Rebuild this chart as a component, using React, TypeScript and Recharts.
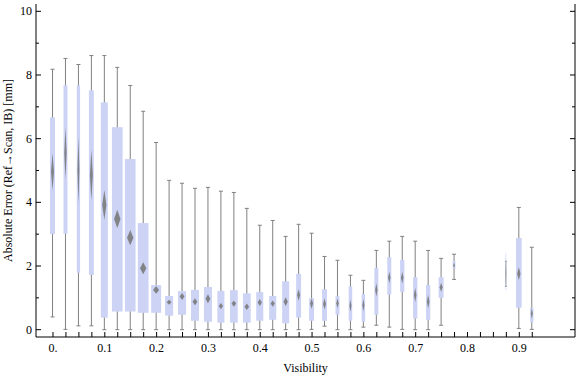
import React from 'react';
import { ComposedChart, Bar, XAxis, YAxis } from 'recharts';

// one box per visibility bin (0.8 - 0.85 have no samples)
const visibility = [0, 0.025, 0.05, 0.075, 0.1, 0.125, 0.15, 0.175, 0.2, 0.225, 0.25, 0.275, 0.3, 0.325, 0.35, 0.375, 0.4, 0.425, 0.45, 0.475, 0.5, 0.525, 0.55, 0.575, 0.6, 0.625, 0.65, 0.675, 0.7, 0.725, 0.75, 0.775, 0.875, 0.9, 0.925];
const whiskerLow = [0.4, 0.01, 0.12, 0.12, 0, 0, 0, 0, 0, 0, 0, 0, 0, 0, 0, 0, 0, 0, 0, 0, 0.01, 0.11, 0, 0, 0.08, 0.14, 0.08, 0.01, 0, 0, 0.14, 1.58, 1.36, 0.04, 0.01];
const q1 = [3.0, 3.01, 1.79, 1.72, 0.38, 0.57, 0.57, 0.53, 0.53, 0.44, 0.47, 0.28, 0.25, 0.22, 0.22, 0.22, 0.28, 0.31, 0.2, 0.38, 0.28, 0.28, 0.47, 0.28, 0.25, 0.47, 1.1, 1.19, 0.35, 0.31, 1.0, 1.92, 1.25, 0.69, 0.23];
const median = [4.96, 5.54, 5.01, 4.86, 3.92, 3.48, 2.89, 1.93, 1.25, 0.86, 1.04, 0.88, 0.97, 0.74, 0.82, 0.72, 0.85, 0.82, 0.88, 1.09, 0.82, 0.81, 0.83, 0.75, 0.77, 1.25, 1.64, 1.63, 1.09, 0.88, 1.33, 2.02, 1.77, 1.76, 0.51];
const q3 = [6.67, 7.68, 7.67, 7.52, 7.14, 6.36, 5.36, 3.35, 1.4, 1.06, 1.21, 1.25, 1.34, 1.22, 1.24, 1.14, 1.18, 1.06, 1.52, 1.75, 0.99, 1.27, 1.05, 1.36, 1.12, 1.94, 2.28, 2.19, 1.65, 1.4, 1.65, 2.16, 2.4, 2.88, 0.69];
const whiskerHigh = [8.18, 8.52, 8.33, 8.61, 8.61, 8.24, 7.67, 6.86, 5.88, 4.69, 4.6, 4.44, 4.47, 4.35, 4.31, 3.81, 3.28, 3.43, 2.93, 3.31, 3.03, 2.3, 2.18, 1.71, 1.55, 2.49, 2.78, 2.93, 2.78, 2.49, 2.24, 2.37, 2.15, 3.84, 2.59];
// half height of the median confidence diamond
const medianCI = [0.58, 0.81, 1.05, 0.79, 0.47, 0.29, 0.24, 0.19, 0.12, 0.08, 0.11, 0.11, 0.14, 0.1, 0.1, 0.1, 0.11, 0.1, 0.14, 0.18, 0.16, 0.17, 0.15, 0.19, 0.19, 0.21, 0.18, 0.18, 0.22, 0.21, 0.14, 0.09, 0.3, 0.2, 0.17];
// relative sample size -> box width
const sampleWeight = [0.45, 0.36, 0.3, 0.45, 0.64, 0.97, 0.97, 0.97, 0.91, 0.73, 0.73, 0.73, 0.73, 0.64, 0.7, 0.7, 0.64, 0.64, 0.64, 0.45, 0.45, 0.45, 0.36, 0.32, 0.32, 0.36, 0.36, 0.39, 0.39, 0.39, 0.45, 0.25, 0.06, 0.52, 0.3];

const xTicks = [0, 0.025, 0.05, 0.075, 0.1, 0.125, 0.15, 0.175, 0.2, 0.225, 0.25, 0.275, 0.3, 0.325, 0.35, 0.375, 0.4, 0.425, 0.45, 0.475, 0.5, 0.525, 0.55, 0.575, 0.6, 0.625, 0.65, 0.675, 0.7, 0.725, 0.75, 0.775, 0.8, 0.825, 0.85, 0.875, 0.9, 0.925];
const yTicks = [0, 1, 2, 3, 4, 5, 6, 7, 8, 9, 10];

const data = visibility.map((v, i) => ({
  v,
  whisker: [whiskerLow[i], whiskerHigh[i]],
  box: [q1[i], q3[i]],
  notch: [median[i] - medianCI[i], median[i] + medianCI[i]],
  w: sampleWeight[i],
}));

const X_DOMAIN: [number, number] = [-0.0328, 1.0075];
const Y_DOMAIN: [number, number] = [-0.23, 10.23];
const MAX_BOX = 11;
const FONT = '"Liberation Serif", "Times New Roman", serif';
const BOX_FILL = '#ccd3f5';
const WHISKER = '#808080';

const isMajorX = (v: number) => Math.abs(v * 10 - Math.round(v * 10)) < 1e-6;
const fmtX = (v: number) => (v === 0 ? '0.' : v.toFixed(1));

const WhiskerShape = (props: any) => {
  const { x, y, width, height } = props;
  const cx = x + width / 2;
  const top = Math.min(y, y + height);
  const bot = Math.max(y, y + height);
  const cap = props.payload.w < 0.1 ? 1 : 2;
  return (
    <g stroke={WHISKER} strokeWidth={1}>
      <line x1={cx} x2={cx} y1={top} y2={bot} />
      <line x1={cx - cap} x2={cx + cap} y1={top} y2={top} />
      <line x1={cx - cap} x2={cx + cap} y1={bot} y2={bot} />
    </g>
  );
};

const BoxShape = (props: any) => {
  const { x, y, width, height, payload } = props;
  const cx = x + width / 2;
  const bw = MAX_BOX * payload.w;
  const top = Math.min(y, y + height);
  return <rect x={cx - bw / 2} y={top} width={bw} height={Math.abs(height)} fill={BOX_FILL} />;
};

const DiamondShape = (props: any) => {
  const { x, y, width, height, payload } = props;
  const cx = x + width / 2;
  const dw = Math.max(MAX_BOX * payload.w * 0.6, 0.5);
  const top = Math.min(y, y + height);
  const h = Math.abs(height);
  const pts = `${cx},${top} ${cx + dw / 2},${top + h / 2} ${cx},${top + h} ${cx - dw / 2},${top + h / 2}`;
  return <polygon points={pts} fill="#7a7a7a" fillOpacity={0.9} />;
};

const BottomTick = (props: any) => {
  const { x, y, payload } = props;
  const v = payload.value;
  return (
    <g>
      <line x1={x} x2={x} y1={y} y2={y - 5} stroke="#000" />
      {isMajorX(v) && (
        <text x={x} y={y + 15} textAnchor="middle" fontFamily={FONT} fontSize={12} fill="#000">
          {fmtX(v)}
        </text>
      )}
    </g>
  );
};

const TopTick = (props: any) => {
  const { x, y } = props;
  return <line x1={x} x2={x} y1={y} y2={y + 5} stroke="#000" />;
};

const LeftTick = (props: any) => {
  const { x, y, payload } = props;
  const major = payload.value % 2 === 0;
  return (
    <g>
      <line x1={x} x2={x + (major ? 5 : 3)} y1={y} y2={y} stroke="#000" />
      {major && (
        <text x={x - 4} y={y + 4} textAnchor="end" fontFamily={FONT} fontSize={12} fill="#000">
          {payload.value}
        </text>
      )}
    </g>
  );
};

const RightTick = (props: any) => {
  const { x, y, payload } = props;
  const major = payload.value % 2 === 0;
  return <line x1={x} x2={x - (major ? 5 : 3)} y1={y} y2={y} stroke="#000" />;
};

const YLabel = (props: any) => {
  const vb = props.viewBox;
  const cx = vb.x + 8;
  const cy = vb.y + vb.height / 2;
  return (
    <text x={cx} y={cy} transform={`rotate(-90, ${cx}, ${cy})`} textAnchor="middle" dominantBaseline="central" fontFamily={FONT} fontSize={12} fill="#000">
      Absolute Error (Ref→Scan, IB) [mm]
    </text>
  );
};

const XLabel = (props: any) => {
  const vb = props.viewBox;
  return (
    <text x={vb.x + vb.width / 2} y={vb.y + 35} textAnchor="middle" fontFamily={FONT} fontSize={12} fill="#000">
      Visibility
    </text>
  );
};

export default function App() {
  return (
    <div style={{ position: 'absolute', left: 0, top: 0, width: 576, height: 377, background: '#fff' }}>
      <ComposedChart width={576} height={377} data={data} margin={{ top: 4, right: 0, bottom: 0, left: 0 }}>
        <XAxis
          xAxisId="bottom"
          type="number"
          dataKey="v"
          domain={X_DOMAIN}
          allowDataOverflow
          ticks={xTicks}
          interval={0}
          height={40}
          tickSize={0}
          tickMargin={0}
          tick={<BottomTick />}
          axisLine={{ stroke: '#000' }}
          label={<XLabel />}
        />
        <XAxis
          xAxisId="top"
          orientation="top"
          type="number"
          dataKey="v"
          domain={X_DOMAIN}
          allowDataOverflow
          ticks={xTicks}
          interval={0}
          height={0}
          tickSize={0}
          tickMargin={0}
          tick={<TopTick />}
          axisLine={{ stroke: '#000' }}
        />
        <XAxis xAxisId="boxAxis" type="number" dataKey="v" domain={X_DOMAIN} allowDataOverflow hide />
        <XAxis xAxisId="medAxis" type="number" dataKey="v" domain={X_DOMAIN} allowDataOverflow hide />
        <YAxis
          yAxisId="left"
          type="number"
          domain={Y_DOMAIN}
          allowDataOverflow
          ticks={yTicks}
          interval={0}
          width={36}
          tickSize={0}
          tickMargin={0}
          tick={<LeftTick />}
          axisLine={{ stroke: '#000' }}
          label={<YLabel />}
        />
        <YAxis
          yAxisId="right"
          orientation="right"
          type="number"
          domain={Y_DOMAIN}
          allowDataOverflow
          ticks={yTicks}
          interval={0}
          width={1}
          tickSize={0}
          tickMargin={0}
          tick={<RightTick />}
          axisLine={{ stroke: '#000' }}
        />
        <Bar xAxisId="bottom" yAxisId="left" dataKey="whisker" barSize={12} shape={<WhiskerShape />} isAnimationActive={false} />
        <Bar xAxisId="boxAxis" yAxisId="left" dataKey="box" barSize={12} shape={<BoxShape />} isAnimationActive={false} />
        <Bar xAxisId="medAxis" yAxisId="left" dataKey="notch" barSize={12} shape={<DiamondShape />} isAnimationActive={false} />
      </ComposedChart>
    </div>
  );
}
